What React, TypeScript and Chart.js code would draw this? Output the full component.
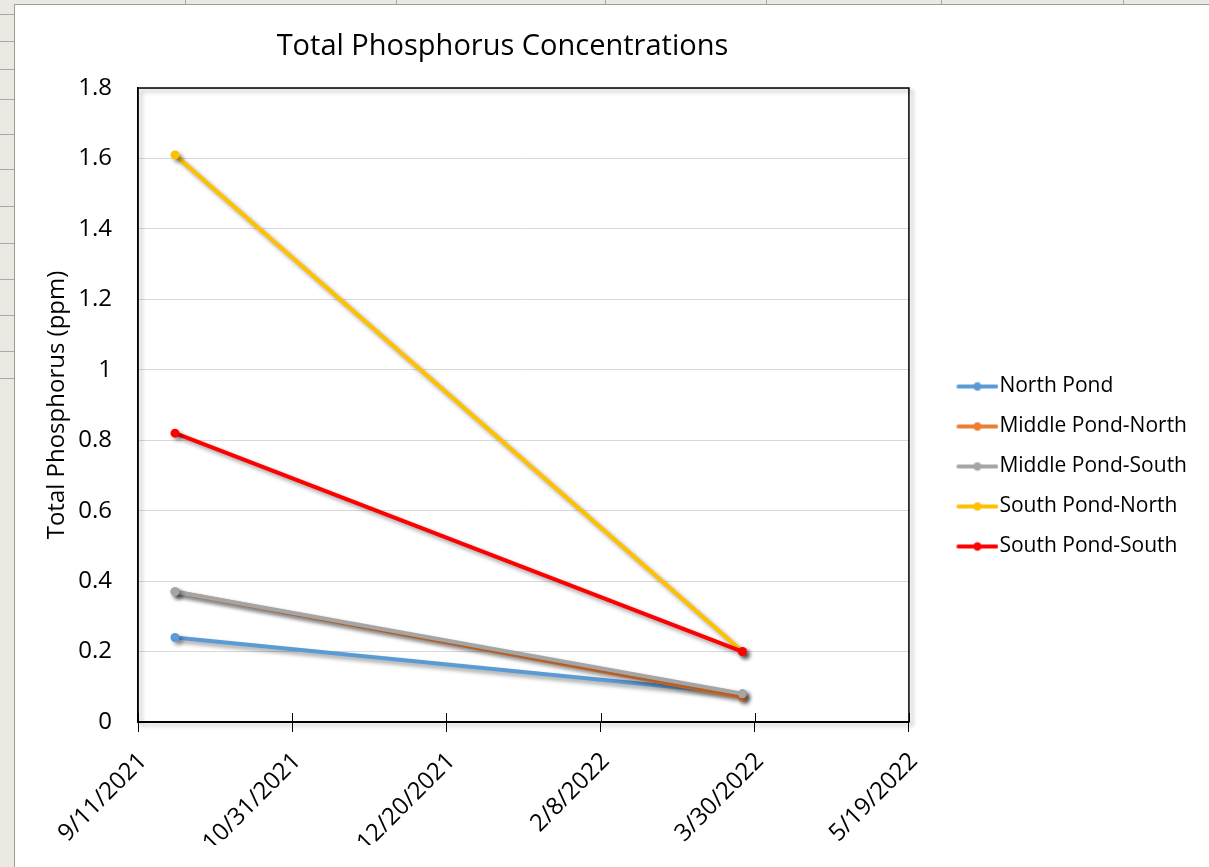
import React, { useEffect, useRef } from "react";
import { Chart, registerables } from "chart.js";

Chart.register(...registerables);

// ---- data ----
const sampleDates = ["2021-09-23", "2022-03-26"];
const northPond = [0.24, 0.08];
const middlePondNorth = [0.37, 0.07];
const middlePondSouth = [0.37, 0.08];
const southPondNorth = [1.61, 0.2];
const southPondSouth = [0.82, 0.2];

const seriesNames = [
  "North Pond",
  "Middle Pond-North",
  "Middle Pond-South",
  "South Pond-North",
  "South Pond-South",
];
const seriesValues = [northPond, middlePondNorth, middlePondSouth, southPondNorth, southPondSouth];
const seriesColors = ["#5B9BD5", "#ED7D31", "#A5A5A5", "#FFC000", "#FF0000"];

const xMinDate = "2021-09-11";
const xMaxDate = "2022-05-19";
const xStepDays = 50;
const yMin = 0;
const yMax = 1.8;
const yStep = 0.2;

const chartTitle = "Total Phosphorus Concentrations";
const yAxisTitle = "Total Phosphorus (ppm)";

// ---- helpers ----
const EXCEL_EPOCH = Date.UTC(1899, 11, 30);
function toSerial(iso: string): number {
  const [y, m, d] = iso.split("-").map(Number);
  return Math.round((Date.UTC(y, m - 1, d) - EXCEL_EPOCH) / 86400000);
}
function fromSerial(s: number): string {
  const dt = new Date(EXCEL_EPOCH + Math.round(s) * 86400000);
  return `${dt.getUTCMonth() + 1}/${dt.getUTCDate()}/${dt.getUTCFullYear()}`;
}

const FONT = "'Open Sans', 'Noto Sans', sans-serif";

function makeLegendIcon(color: string): HTMLCanvasElement {
  const c = document.createElement("canvas");
  c.width = 80;
  c.height = 12;
  const g = c.getContext("2d")!;
  g.strokeStyle = color;
  g.lineWidth = 4;
  g.lineCap = "round";
  g.beginPath();
  g.moveTo(40, 6);
  g.lineTo(78, 6);
  g.stroke();
  g.fillStyle = color;
  g.beginPath();
  g.arc(59, 6, 4.2, 0, Math.PI * 2);
  g.fill();
  return c;
}

const leftLines = [14, 41, 69, 99, 134, 169, 206, 243, 279, 315, 351, 378];
const topLines = [185, 396, 605, 766, 941, 1123];

export default function App() {
  const ref = useRef<HTMLCanvasElement>(null);

  useEffect(() => {
    if (!ref.current) return;
    const icons = seriesColors.map(makeLegendIcon);
    const xs = sampleDates.map(toSerial);

    const framePlugin = {
      id: "frame",
      beforeDatasetsDraw(chart: any) {
        const { ctx, chartArea } = chart;
        const { left, top, right, bottom } = chartArea;
        ctx.save();
        ctx.shadowColor = "rgba(0,0,0,0.35)";
        ctx.shadowBlur = 4;
        ctx.shadowOffsetX = 3;
        ctx.shadowOffsetY = 3;
        ctx.strokeStyle = "#000";
        ctx.lineWidth = 1.5;
        ctx.strokeRect(left, top, right - left, bottom - top);
        ctx.restore();
        ctx.save();
        ctx.strokeStyle = "#000";
        ctx.lineWidth = 1;
        const sx = chart.scales.x;
        sx.ticks.forEach((t: any) => {
          const px = Math.round(sx.getPixelForValue(t.value)) + 0.5;
          ctx.beginPath();
          ctx.moveTo(px, bottom - 9);
          ctx.lineTo(px, bottom);
          ctx.stroke();
        });
        ctx.restore();
        ctx.save();
        ctx.shadowColor = "rgba(0,0,0,0.4)";
        ctx.shadowBlur = 4;
        ctx.shadowOffsetX = 3;
        ctx.shadowOffsetY = 3;
      },
      afterDatasetsDraw(chart: any) {
        chart.ctx.restore();
      },
    };

    const titlePlugin = {
      id: "customTitle",
      afterDraw(chart: any) {
        const { ctx, chartArea } = chart;
        ctx.save();
        ctx.font = `29px ${FONT}`;
        ctx.fillStyle = "#000";
        ctx.textAlign = "center";
        ctx.textBaseline = "middle";
        ctx.fillText(chartTitle, (chartArea.left + chartArea.right) / 2 - 21, 42);
        ctx.restore();
      },
    };

    const chart = new Chart(ref.current, {
      type: "line",
      data: {
        datasets: seriesNames.map((name, i) => ({
          label: name,
          data: xs.map((x, j) => ({ x, y: seriesValues[i][j] })),
          borderColor: seriesColors[i],
          backgroundColor: seriesColors[i],
          borderWidth: 4,
          pointRadius: 4.5,
          pointHoverRadius: 4.5,
          pointBorderWidth: 0,
          pointBackgroundColor: seriesColors[i],
          tension: 0,
          order: seriesNames.length - i,
        })),
      },
      options: {
        responsive: false,
        animation: false,
        events: [],
        layout: { padding: { top: 83, right: 12, bottom: 22, left: 0 } },
        plugins: {
          title: { display: false },
          tooltip: { enabled: false },
          legend: {
            display: true,
            position: "right",
            labels: {
              usePointStyle: true,
              pointStyleWidth: 61,
              padding: 19,
              color: "#000",
              font: { family: FONT, size: 21 },
              sort: (a: any, b: any) => a.datasetIndex - b.datasetIndex,
              generateLabels: (ch: any) =>
                ch.data.datasets.map((ds: any, i: number) => ({
                  text: ds.label,
                  pointStyle: icons[i],
                  fillStyle: seriesColors[i],
                  strokeStyle: seriesColors[i],
                  lineWidth: 0,
                  hidden: false,
                  datasetIndex: i,
                  fontColor: "#000",
                })),
            },
          },
        },
        scales: {
          x: {
            type: "linear",
            min: toSerial(xMinDate),
            max: toSerial(xMaxDate),
            afterFit: (s: any) => {
              s.height = 123;
            },
            ticks: {
              stepSize: xStepDays,
              minRotation: 45,
              maxRotation: 45,
              padding: 15,
              labelOffset: 5,
              color: "#000",
              font: { family: FONT, size: 24 },
              callback: (v: any) => fromSerial(Number(v)),
            },
            grid: {
              drawOnChartArea: false,
              drawTicks: true,
              tickLength: 10,
              color: "#000",
            },
            border: { display: true, color: "#000", width: 2 },
          },
          y: {
            type: "linear",
            min: yMin,
            max: yMax,
            afterFit: (s: any) => {
              s.width = 123;
            },
            ticks: {
              stepSize: yStep,
              padding: 26,
              color: "#000",
              font: { family: FONT, size: 24 },
              callback: (v: any) => String(Math.round(Number(v) * 10) / 10),
            },
            grid: {
              color: "#D9D9D9",
              lineWidth: 1,
              drawTicks: false,
            },
            border: { display: true, color: "#000", width: 1.5 },
            title: {
              display: true,
              text: yAxisTitle,
              color: "#000",
              font: { family: FONT, size: 24 },
              padding: { top: 28, bottom: 0 },
            },
          },
        },
      },
      plugins: [framePlugin, titlePlugin],
    } as any);

    return () => chart.destroy();
  }, []);

  return (
    <div
      style={{
        position: "fixed",
        left: 0,
        top: 0,
        width: 1209,
        height: 867,
        background: "#ECE9E2",
        overflow: "hidden",
      }}
    >
      {leftLines.map((y) => (
        <div
          key={"l" + y}
          style={{ position: "absolute", left: 0, top: y, width: 14, height: 1, background: "#A8A8A8" }}
        />
      ))}
      {topLines.map((x) => (
        <div
          key={"t" + x}
          style={{ position: "absolute", left: x, top: 0, width: 1, height: 5, background: "#A8A8A8" }}
        />
      ))}
      <div style={{ position: "absolute", left: 14, top: 4, width: 1, height: 863, background: "#9C9C9C" }} />
      <div style={{ position: "absolute", left: 14, top: 4, width: 1195, height: 1, background: "#9C9C9C" }} />
      <div
        style={{
          position: "absolute",
          left: 15,
          top: 5,
          width: 1194,
          height: 862,
          background: "#FFFFFF",
        }}
      >
        <canvas ref={ref} width={1194} height={862} style={{ display: "block" }} />
      </div>
    </div>
  );
}
